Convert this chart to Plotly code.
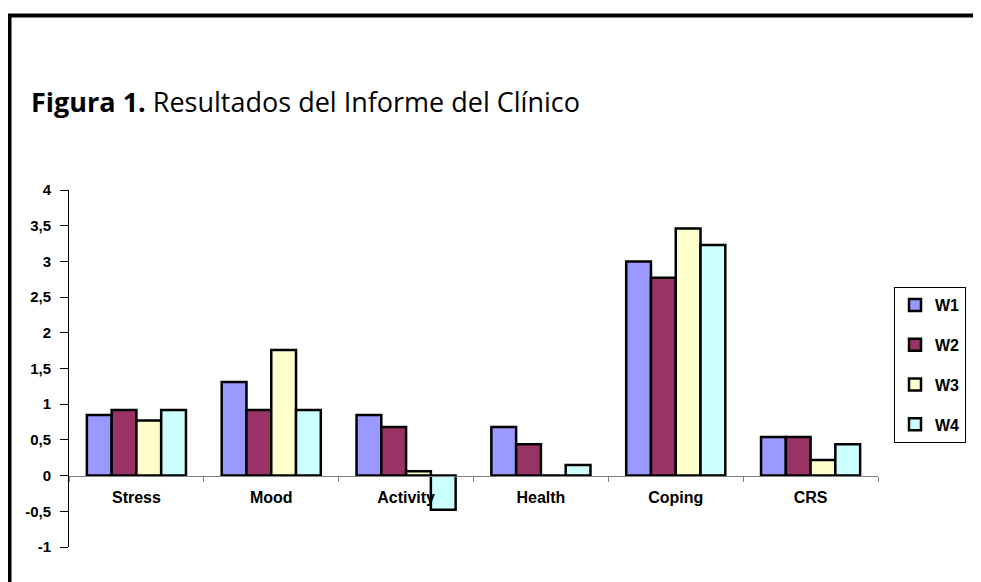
import plotly.graph_objects as go

categories = ["Stress", "Mood", "Activity", "Health", "Coping", "CRS"]
series_names = ["W1", "W2", "W3", "W4"]
w1 = [0.85, 1.31, 0.85, 0.68, 3.00, 0.54]
w2 = [0.92, 0.92, 0.68, 0.44, 2.77, 0.54]
w3 = [0.77, 1.76, 0.06, 0.00, 3.46, 0.22]
w4 = [0.92, 0.92, -0.48, 0.15, 3.23, 0.44]
y_tick_vals = [-1, -0.5, 0, 0.5, 1, 1.5, 2, 2.5, 3, 3.5, 4]
y_tick_text = ["-1", "-0,5", "0", "0,5", "1", "1,5", "2", "2,5", "3", "3,5", "4"]
title_text = "<b>Figura 1.</b> Resultados del Informe del Clínico"

colors = ["#9999FF", "#993366", "#FFFFCC", "#CCFFFF"]

OFF = 8  # page body margin
W, H = 981 - OFF, 582 - OFF
# plot area in screen px
SL, SR, ST, SB = 69, 878, 190, 547
L, R, T, B = SL - OFF, SR - OFF, ST - OFF, SB - OFF


def px_x(sx):
    return (sx - OFF - L) / (R - L)


def px_y(sy):
    return (B - (sy - OFF)) / (B - T)


fig = go.Figure()
for name, vals, col in zip(series_names, [w1, w2, w3, w4], colors):
    fig.add_trace(go.Bar(
        name=name, x=categories, y=vals, legendgroup=name,
        marker=dict(color=col, line=dict(color="black", width=2.5)),
    ))

arial = "Liberation Sans, Arial, sans-serif"

fig.update_layout(
    width=W, height=H,
    margin=dict(l=L, r=W - R, t=T, b=H - B, pad=0),
    paper_bgcolor="white", plot_bgcolor="white",
    barmode="group", bargap=0.265, bargroupgap=0,
    showlegend=True,
    legend=dict(
        x=px_x(894), y=px_y(287), xanchor="left", yanchor="top",
        bordercolor="black", borderwidth=1, bgcolor="white",
        font=dict(family=arial, size=16, color="black", weight="bold"),
        tracegroupgap=16, traceorder="grouped", itemwidth=30,
    ),
    xaxis=dict(
        anchor="free", position=0.2,
        showline=True, linecolor="#808080", linewidth=1,
        ticks="outside", tickson="boundaries", ticklen=5, tickcolor="#808080",
        ticklabelstandoff=7,
        showgrid=False, zeroline=False,
        tickfont=dict(family=arial, size=16, color="black", weight="bold"),
    ),
    yaxis=dict(
        range=[-1, 4], tickvals=y_tick_vals, ticktext=y_tick_text,
        showline=True, linecolor="black", linewidth=1,
        ticks="outside", ticklen=8, tickcolor="black",
        ticklabelstandoff=6,
        showgrid=False, zeroline=False,
        tickfont=dict(family=arial, size=15, color="black", weight="bold"),
    ),
    annotations=[dict(
        text=title_text, xref="paper", yref="paper",
        x=px_x(29), y=px_y(101), xanchor="left", yanchor="middle",
        showarrow=False,
        font=dict(family="Open Sans, sans-serif", size=27, color="black"),
    )],
    shapes=[dict(
        type="path", xref="paper", yref="paper",
        path="M {x0},{y0} L {x0},{y1} L {x2},{y1}".format(
            x0=px_x(9.5), y0=px_y(600), y1=px_y(15.5), x2=px_x(1000)),
        line=dict(color="black", width=4),
    )],
)

fig.write_html("out.html")
